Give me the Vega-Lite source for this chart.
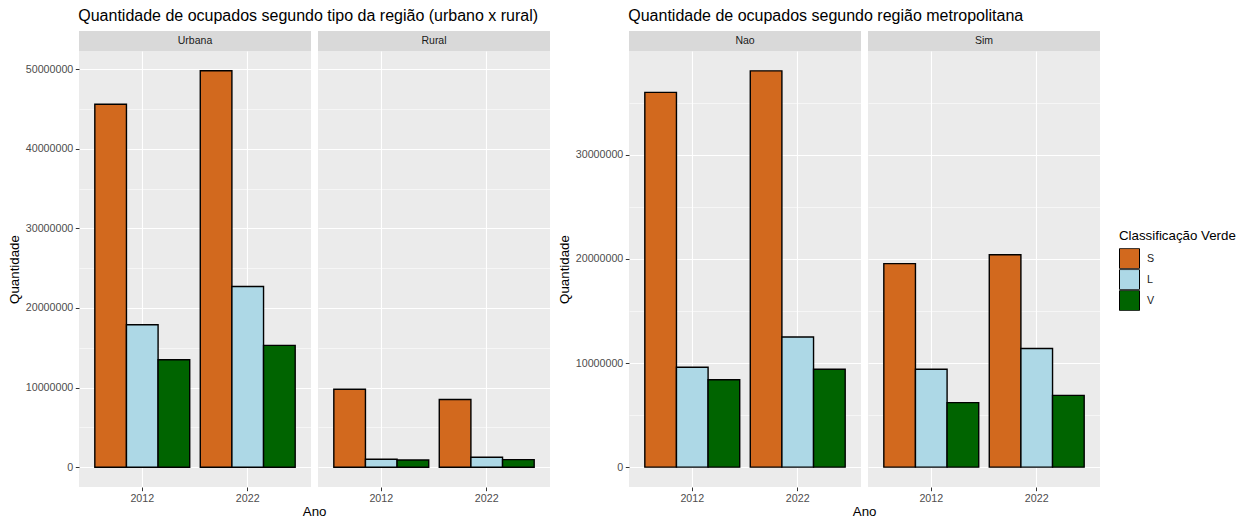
{
  "$schema": "https://vega.github.io/schema/vega-lite/v6.json",
  "background": "white",
  "padding": {"left": 7, "top": 8, "right": 5, "bottom": 0},
  "datasets": {
    "tipo": [
      {"regiao": "Urbana", "ano": "2012", "classe": "S", "valor": 45600000},
      {"regiao": "Urbana", "ano": "2012", "classe": "L", "valor": 17900000},
      {"regiao": "Urbana", "ano": "2012", "classe": "V", "valor": 13500000},
      {"regiao": "Urbana", "ano": "2022", "classe": "S", "valor": 49800000},
      {"regiao": "Urbana", "ano": "2022", "classe": "L", "valor": 22700000},
      {"regiao": "Urbana", "ano": "2022", "classe": "V", "valor": 15300000},
      {"regiao": "Rural", "ano": "2012", "classe": "S", "valor": 9800000},
      {"regiao": "Rural", "ano": "2012", "classe": "L", "valor": 1000000},
      {"regiao": "Rural", "ano": "2012", "classe": "V", "valor": 900000},
      {"regiao": "Rural", "ano": "2022", "classe": "S", "valor": 8500000},
      {"regiao": "Rural", "ano": "2022", "classe": "L", "valor": 1250000},
      {"regiao": "Rural", "ano": "2022", "classe": "V", "valor": 950000}
    ],
    "metro": [
      {"metropolitana": "Nao", "ano": "2012", "classe": "S", "valor": 36000000},
      {"metropolitana": "Nao", "ano": "2012", "classe": "L", "valor": 9600000},
      {"metropolitana": "Nao", "ano": "2012", "classe": "V", "valor": 8400000},
      {"metropolitana": "Nao", "ano": "2022", "classe": "S", "valor": 38070000},
      {"metropolitana": "Nao", "ano": "2022", "classe": "L", "valor": 12500000},
      {"metropolitana": "Nao", "ano": "2022", "classe": "V", "valor": 9400000},
      {"metropolitana": "Sim", "ano": "2012", "classe": "S", "valor": 19550000},
      {"metropolitana": "Sim", "ano": "2012", "classe": "L", "valor": 9400000},
      {"metropolitana": "Sim", "ano": "2012", "classe": "V", "valor": 6200000},
      {"metropolitana": "Sim", "ano": "2022", "classe": "S", "valor": 20400000},
      {"metropolitana": "Sim", "ano": "2022", "classe": "L", "valor": 11400000},
      {"metropolitana": "Sim", "ano": "2022", "classe": "V", "valor": 6900000}
    ]
  },
  "config": {
    "font": "Liberation Sans",
    "view": {"fill": "#EBEBEB", "stroke": null},
    "axis": {
      "domain": false,
      "gridColor": "white",
      "gridWidth": 1.1,
      "tickColor": "#333333",
      "tickSize": 3.7,
      "tickWidth": 1,
      "labelColor": "#4D4D4D",
      "labelFont": "Liberation Sans",
      "labelFontSize": 10.7,
      "labelPadding": 2.5,
      "titleFont": "Liberation Sans",
      "titleFontSize": 13.3,
      "titleFontWeight": "normal",
      "titleColor": "black"
    },
    "axisX": {"bandPosition": 0.5, "labelAngle": 0, "title": null, "grid": true},
    "title": {"font": "Liberation Sans", "fontSize": 16, "fontWeight": "normal", "color": "black", "anchor": "start"},
    "legend": {
      "titleFont": "Liberation Sans",
      "titleFontSize": 13.3,
      "titleFontWeight": "normal",
      "titleColor": "black",
      "titlePadding": 6,
      "labelFont": "Liberation Sans",
      "labelFontSize": 10.7,
      "labelColor": "#1A1A1A",
      "symbolType": "square",
      "symbolSize": 400,
      "symbolStrokeColor": "black",
      "symbolStrokeWidth": 1,
      "symbolOpacity": 1,
      "rowPadding": 0,
      "labelOffset": 7
    }
  },
  "spacing": 7,
  "hconcat": [
    {
      "title": {"text": "Quantidade de ocupados segundo tipo da região (urbano x rural)", "dx": 71, "offset": 7},
      "vconcat": [
        {
          "title": {"text": "Ano", "orient": "bottom", "anchor": "middle", "fontSize": 13.3, "dx": 36, "offset": 2},
          "spacing": 7,
          "hconcat": [
            {
              "bounds": "flush",
              "spacing": 0,
              "vconcat": [
                {
                  "width": 232, "height": 20,
                  "view": {"fill": "#D9D9D9", "stroke": null},
                  "data": {"values": [{"rotulo": "Urbana"}]},
                  "mark": {"type": "text", "fontSize": 10.5, "color": "#1A1A1A", "font": "Liberation Sans"},
                  "encoding": {"text": {"field": "rotulo"}}
                },
                {
                  "width": 232, "height": 436,
                  "data": {"name": "tipo"},
                  "transform": [{"filter": "datum.regiao === 'Urbana'"}],
                  "mark": {"type": "bar", "stroke": "black", "strokeWidth": 1.4},
                  "encoding": {
                    "x": {"field": "ano", "type": "nominal", "scale": {"paddingInner": 0.1, "paddingOuter": 0.15}},
                    "xOffset": {"field": "classe", "type": "nominal", "sort": ["S", "L", "V"], "scale": {"paddingInner": 0, "paddingOuter": 0}},
                    "y": {
                      "field": "valor", "type": "quantitative",
                      "scale": {"domain": [-2490000, 52290000], "nice": false},
                      "axis": {
                        "title": "Quantidade",
                        "titlePadding": 4,
                        "values": [0, 5000000, 10000000, 15000000, 20000000, 25000000, 30000000, 35000000, 40000000, 45000000, 50000000],
                        "labelExpr": "datum.value % 10000000 === 0 ? format(datum.value, 'd') : ''",
                        "gridWidth": {"condition": {"test": "datum.value % 10000000 === 0", "value": 1.1}, "value": 0.55},
                        "tickOpacity": {"condition": {"test": "datum.value % 10000000 === 0", "value": 1}, "value": 0}
                      }
                    },
                    "color": {
                      "field": "classe", "type": "nominal",
                      "scale": {"domain": ["S", "L", "V"], "range": ["#D2691E", "#ADD8E6", "#006400"]},
                      "legend": {"title": "Classificação Verde", "orient": "none", "legendX": 1040, "legendY": 198, "rowPadding": 0, "clipHeight": 20.5}
                    }
                  }
                }
              ]
            },
            {
              "bounds": "flush",
              "spacing": 0,
              "vconcat": [
                {
                  "width": 232, "height": 20,
                  "view": {"fill": "#D9D9D9", "stroke": null},
                  "data": {"values": [{"rotulo": "Rural"}]},
                  "mark": {"type": "text", "fontSize": 10.5, "color": "#1A1A1A", "font": "Liberation Sans"},
                  "encoding": {"text": {"field": "rotulo"}}
                },
                {
                  "width": 232, "height": 436,
                  "data": {"name": "tipo"},
                  "transform": [{"filter": "datum.regiao === 'Rural'"}],
                  "mark": {"type": "bar", "stroke": "black", "strokeWidth": 1.4},
                  "encoding": {
                    "x": {"field": "ano", "type": "nominal", "scale": {"paddingInner": 0.1, "paddingOuter": 0.15}},
                    "xOffset": {"field": "classe", "type": "nominal", "sort": ["S", "L", "V"], "scale": {"paddingInner": 0, "paddingOuter": 0}},
                    "y": {
                      "field": "valor", "type": "quantitative",
                      "scale": {"domain": [-2490000, 52290000], "nice": false},
                      "axis": {
                        "title": null, "labels": false, "ticks": false,
                        "values": [0, 5000000, 10000000, 15000000, 20000000, 25000000, 30000000, 35000000, 40000000, 45000000, 50000000],
                        "gridWidth": {"condition": {"test": "datum.value % 10000000 === 0", "value": 1.1}, "value": 0.55}
                      }
                    },
                    "color": {
                      "field": "classe", "type": "nominal",
                      "scale": {"domain": ["S", "L", "V"], "range": ["#D2691E", "#ADD8E6", "#006400"]},
                      "legend": {"title": "Classificação Verde", "orient": "none", "legendX": 1040, "legendY": 198, "rowPadding": 0, "clipHeight": 20.5}
                    }
                  }
                }
              ]
            }
          ]
        }
      ]
    },
    {
      "title": {"text": "Quantidade de ocupados segundo região metropolitana", "dx": 71, "offset": 7},
      "vconcat": [
        {
          "title": {"text": "Ano", "orient": "bottom", "anchor": "middle", "fontSize": 13.3, "dx": 36, "offset": 2},
          "spacing": 7,
          "hconcat": [
            {
              "bounds": "flush",
              "spacing": 0,
              "vconcat": [
                {
                  "width": 232, "height": 20,
                  "view": {"fill": "#D9D9D9", "stroke": null},
                  "data": {"values": [{"rotulo": "Nao"}]},
                  "mark": {"type": "text", "fontSize": 10.5, "color": "#1A1A1A", "font": "Liberation Sans"},
                  "encoding": {"text": {"field": "rotulo"}}
                },
                {
                  "width": 232, "height": 436,
                  "data": {"name": "metro"},
                  "transform": [{"filter": "datum.metropolitana === 'Nao'"}],
                  "mark": {"type": "bar", "stroke": "black", "strokeWidth": 1.4},
                  "encoding": {
                    "x": {"field": "ano", "type": "nominal", "scale": {"paddingInner": 0.1, "paddingOuter": 0.15}},
                    "xOffset": {"field": "classe", "type": "nominal", "sort": ["S", "L", "V"], "scale": {"paddingInner": 0, "paddingOuter": 0}},
                    "y": {
                      "field": "valor", "type": "quantitative",
                      "scale": {"domain": [-1905000, 39975000], "nice": false},
                      "axis": {
                        "title": "Quantidade",
                        "titlePadding": 4,
                        "values": [0, 5000000, 10000000, 15000000, 20000000, 25000000, 30000000, 35000000],
                        "labelExpr": "datum.value % 10000000 === 0 ? format(datum.value, 'd') : ''",
                        "gridWidth": {"condition": {"test": "datum.value % 10000000 === 0", "value": 1.1}, "value": 0.55},
                        "tickOpacity": {"condition": {"test": "datum.value % 10000000 === 0", "value": 1}, "value": 0}
                      }
                    },
                    "color": {
                      "field": "classe", "type": "nominal",
                      "scale": {"domain": ["S", "L", "V"], "range": ["#D2691E", "#ADD8E6", "#006400"]},
                      "legend": {"title": "Classificação Verde", "orient": "none", "legendX": 1040, "legendY": 198, "rowPadding": 0, "clipHeight": 20.5}
                    }
                  }
                }
              ]
            },
            {
              "bounds": "flush",
              "spacing": 0,
              "vconcat": [
                {
                  "width": 232, "height": 20,
                  "view": {"fill": "#D9D9D9", "stroke": null},
                  "data": {"values": [{"rotulo": "Sim"}]},
                  "mark": {"type": "text", "fontSize": 10.5, "color": "#1A1A1A", "font": "Liberation Sans"},
                  "encoding": {"text": {"field": "rotulo"}}
                },
                {
                  "width": 232, "height": 436,
                  "data": {"name": "metro"},
                  "transform": [{"filter": "datum.metropolitana === 'Sim'"}],
                  "mark": {"type": "bar", "stroke": "black", "strokeWidth": 1.4},
                  "encoding": {
                    "x": {"field": "ano", "type": "nominal", "scale": {"paddingInner": 0.1, "paddingOuter": 0.15}},
                    "xOffset": {"field": "classe", "type": "nominal", "sort": ["S", "L", "V"], "scale": {"paddingInner": 0, "paddingOuter": 0}},
                    "y": {
                      "field": "valor", "type": "quantitative",
                      "scale": {"domain": [-1905000, 39975000], "nice": false},
                      "axis": {
                        "title": null, "labels": false, "ticks": false,
                        "values": [0, 5000000, 10000000, 15000000, 20000000, 25000000, 30000000, 35000000],
                        "gridWidth": {"condition": {"test": "datum.value % 10000000 === 0", "value": 1.1}, "value": 0.55}
                      }
                    },
                    "color": {
                      "field": "classe", "type": "nominal",
                      "scale": {"domain": ["S", "L", "V"], "range": ["#D2691E", "#ADD8E6", "#006400"]},
                      "legend": {"title": "Classificação Verde", "orient": "none", "legendX": 1040, "legendY": 198, "rowPadding": 0, "clipHeight": 20.5}
                    }
                  }
                }
              ]
            }
          ]
        }
      ]
    }
  ]
}
